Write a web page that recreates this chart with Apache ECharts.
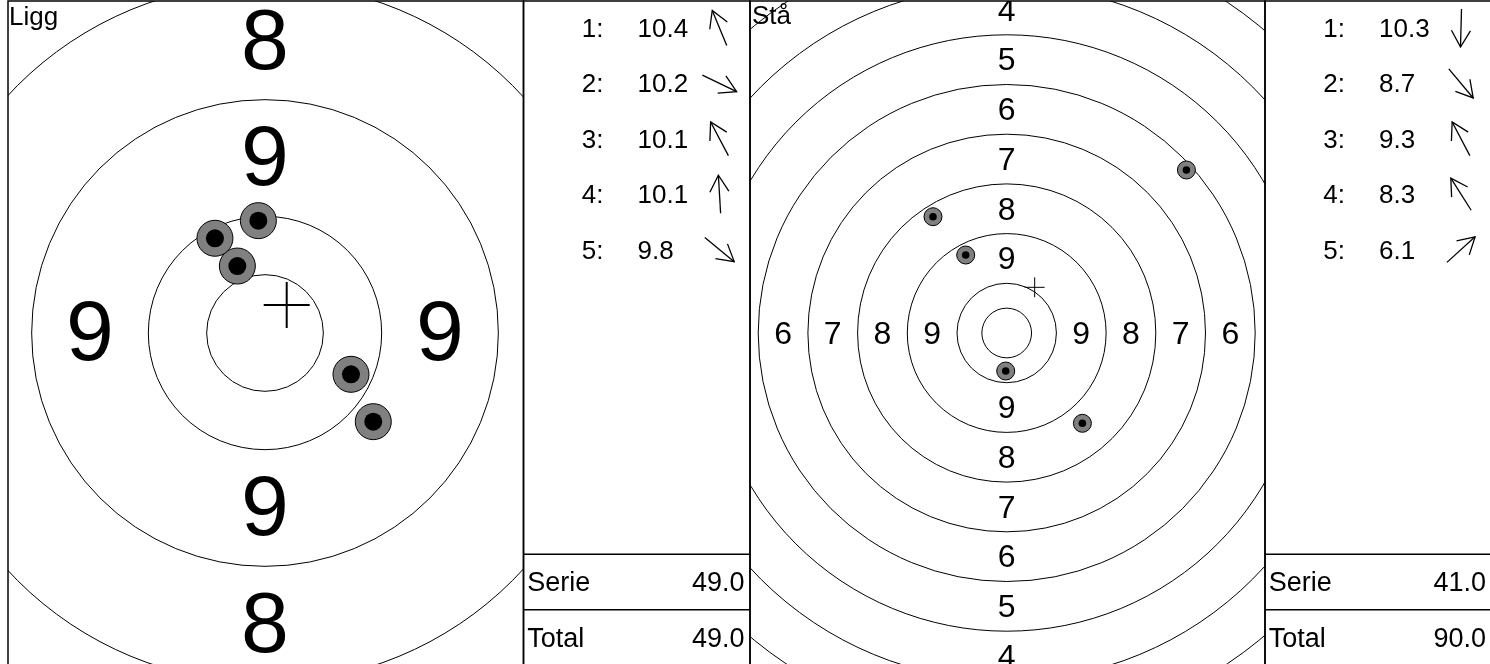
<!DOCTYPE html>
<html><head><meta charset="utf-8">
<script src="https://cdn.jsdelivr.net/npm/echarts@6/dist/echarts.min.js"></script>
<style>html,body{margin:0;padding:0;background:#fff;}#c{width:1490px;height:664px;}</style>
</head><body><div id="c"></div>
<script>
// ---------------- data ----------------
const panelNames = ['Ligg', 'Stå'];
const tableLabels = ['Serie', 'Total'];
// Left target (Ligg): ring radii and zone labels, in ring-width units
const liggRings = [0.5, 1, 2, 3];
const liggZoneLabels = ['9', '8'];
const liggZoneRadii = [1.5, 2.5];
// shots (x right, y up) in ring-width units, in shot order 1..5
const liggShotX = [-0.237, 0.737, -0.429, -0.057, 0.928];
const liggShotY = [0.574, -0.354, 0.812, 0.963, -0.760];
const liggScores = ['10.4', '10.2', '10.1', '10.1', '9.8'];
const liggMean = [0.186, 0.240];
const liggSums = ['49.0', '49.0'];
// Right target (Stå)
const staRings = [0.5, 1, 2, 3, 4, 5, 6, 7, 8];
const staZoneLabels = ['9', '8', '7', '6', '5', '4'];
const staZoneRadii = [1.5, 2.5, 3.5, 4.5, 5.5, 6.5];
const staShotX = [-0.020, 1.523, -0.825, -1.483, 3.616];
const staShotY = [-0.765, -1.817, 1.569, 2.340, 3.280];
const staScores = ['10.3', '8.7', '9.3', '8.3', '6.1'];
const staMean = [0.563, 0.919];
const staSums = ['41.0', '90.0'];

// ---------------- layout ----------------
const FONT = '"Liberation Sans", Arial, Helvetica, sans-serif';
const TOP = 1, H = 720;
const P = [
  {x0: 8, x1: 523.5, cx: 265, cy: 333, scale: 116.67},   // Ligg target
  {x0: 523.5, x1: 750},                                  // Ligg table
  {x0: 750, x1: 1265, cx: 1006.7, cy: 333, scale: 49.7}, // Stå target
  {x0: 1265, x1: 1492}                                   // Stå table
];
const ROW0 = 28, ROWH = 55.4;
const COL_NUM = 58.2, COL_VAL = 114, COL_ARR = 196, COL_LAB = 3.8, COL_SUM_R = 221;

const grids = P.map(p => ({left: p.x0, top: TOP, width: p.x1 - p.x0, height: H,
  outerBoundsMode: 'none', containLabel: false,
  show: true, borderColor: '#000', borderWidth: 1.5, backgroundColor: 'transparent'}));
const xAxes = P.map((p, i) => (i % 2 === 0)
  ? {type: 'value', gridIndex: i, show: false, min: (p.x0 - p.cx) / p.scale, max: (p.x1 - p.cx) / p.scale}
  : {type: 'value', gridIndex: i, show: false, min: 0, max: p.x1 - p.x0});
const yAxes = P.map((p, i) => (i % 2 === 0)
  ? {type: 'value', gridIndex: i, show: false, min: (p.cy - TOP - H) / p.scale, max: (p.cy - TOP) / p.scale}
  : {type: 'value', gridIndex: i, show: false, inverse: true,
     min: 1 - (ROW0 - TOP) / ROWH, max: 1 + (TOP + H - ROW0) / ROWH});

// text centred on glyph middle (small downward nudge so digit centres hit the point)
function txt(s, p, align, size) {
  const dy = 1 + 0.03 * size;
  return {type: 'text', x: p[0], y: p[1] + dy, style: {text: s, fill: '#000', fontSize: size, fontFamily: FONT,
    align: align, verticalAlign: 'middle', textAlign: align, textVerticalAlign: 'middle'}};
}

function ringSeries(gi, rings) {
  return {type: 'custom', xAxisIndex: gi, yAxisIndex: gi, clip: true, silent: true,
    data: rings.map(r => [r, 0]),
    renderItem(params, api) {
      const r = rings[params.dataIndex];
      const c = api.coord([0, 0]);
      const rp = api.size([2 * r, 0])[0] / 2;
      return {type: 'circle', shape: {cx: c[0], cy: c[1], r: rp}, style: {fill: 'none', stroke: '#000', lineWidth: 1}};
    }};
}
function zoneLabelSeries(gi, labels, radii, size) {
  return {type: 'custom', xAxisIndex: gi, yAxisIndex: gi, clip: true, silent: true,
    data: radii.map(r => [r, 0]),
    renderItem(params, api) {
      const r = radii[params.dataIndex], s = labels[params.dataIndex];
      const pts = [[0, r], [0, -r], [r, 0], [-r, 0]];
      return {type: 'group', children: pts.map(q => txt(s, api.coord(q), 'center', size))};
    }};
}
function shotSeries(gi, xs, ys, rOut, rIn) {
  return {type: 'custom', xAxisIndex: gi, yAxisIndex: gi, clip: true, silent: true,
    data: xs.map((x, i) => [x, ys[i]]),
    renderItem(params, api) {
      const i = params.dataIndex;
      const c = api.coord([xs[i], ys[i]]);
      return {type: 'group', children: [
        {type: 'circle', shape: {cx: c[0], cy: c[1], r: rOut}, style: {fill: '#808080', stroke: '#000', lineWidth: 1}},
        {type: 'circle', shape: {cx: c[0], cy: c[1], r: rIn}, style: {fill: '#000', stroke: null}}
      ]};
    }};
}
function meanSeries(gi, m, half, lw) {
  return {type: 'custom', xAxisIndex: gi, yAxisIndex: gi, clip: true, silent: true,
    data: [m],
    renderItem(params, api) {
      const c = api.coord(m);
      const st = {stroke: '#000', lineWidth: lw, fill: 'none'};
      return {type: 'group', children: [
        {type: 'line', shape: {x1: c[0] - half, y1: c[1], x2: c[0] + half, y2: c[1]}, style: st},
        {type: 'line', shape: {x1: c[0], y1: c[1] - half, x2: c[0], y2: c[1] + half}, style: st}
      ]};
    }};
}
function shotTableSeries(gi, scores, xs, ys) {
  return {type: 'custom', xAxisIndex: gi, yAxisIndex: gi, clip: true, silent: true,
    data: scores.map((s, i) => [COL_VAL, i + 1]),
    renderItem(params, api) {
      const i = params.dataIndex, row = i + 1;
      const pN = api.coord([COL_NUM, row]), pV = api.coord([COL_VAL, row]), pA = api.coord([COL_ARR, row]);
      const len = Math.hypot(xs[i], ys[i]);
      const ux = xs[i] / len, uy = -ys[i] / len;
      const half = 19, bl = 19;
      const tail = [pA[0] - ux * half, pA[1] - uy * half], tip = [pA[0] + ux * half, pA[1] + uy * half];
      const barb = a => { const c = Math.cos(a), s = Math.sin(a); const bx = -ux, by = -uy;
        return [tip[0] + bl * (bx * c - by * s), tip[1] + bl * (bx * s + by * c)]; };
      const st = {stroke: '#000', lineWidth: 1.3, fill: 'none'};
      return {type: 'group', children: [
        txt(row + ':', pN, 'left', 26), txt(scores[i], pV, 'left', 26),
        {type: 'polyline', shape: {points: [tail, tip]}, style: st},
        {type: 'polyline', shape: {points: [barb(Math.PI / 6), tip, barb(-Math.PI / 6)]}, style: st}
      ]};
    }};
}
function sumTableSeries(gi, sums) {
  return {type: 'custom', xAxisIndex: gi, yAxisIndex: gi, clip: true, silent: true,
    data: sums.map((s, i) => [COL_LAB, 11 + i]),
    renderItem(params, api) {
      const i = params.dataIndex, row = 11 + i;
      const w = P[gi].x1 - P[gi].x0;
      const a = api.coord([0, row - 0.5]), b = api.coord([w, row - 0.5]);
      return {type: 'group', children: [
        {type: 'line', shape: {x1: a[0], y1: a[1], x2: b[0], y2: b[1]}, style: {stroke: '#000', lineWidth: 1.5}},
        txt(tableLabels[i], api.coord([COL_LAB, row]), 'left', 27),
        txt(sums[i], api.coord([COL_SUM_R, row]), 'right', 27)
      ]};
    }};
}

const chart = echarts.init(document.getElementById('c'), null, {renderer: 'canvas'});
chart.setOption({
  animation: false,
  backgroundColor: '#fff',
  grid: grids, xAxis: xAxes, yAxis: yAxes,
  graphic: [
    {type: 'text', x: 9, y: 18, silent: true, style: {text: panelNames[0], fontSize: 26, fontFamily: FONT, fill: '#000', verticalAlign: 'middle', textVerticalAlign: 'middle'}},
    {type: 'text', x: 752, y: 17, silent: true, style: {text: panelNames[1], fontSize: 26, fontFamily: FONT, fill: '#000', verticalAlign: 'middle', textVerticalAlign: 'middle'}}
  ],
  series: [
    ringSeries(0, liggRings),
    zoneLabelSeries(0, liggZoneLabels, liggZoneRadii, 86),
    meanSeries(0, liggMean, 23, 2),
    shotSeries(0, liggShotX, liggShotY, 18, 9),
    shotTableSeries(1, liggScores, liggShotX, liggShotY),
    sumTableSeries(1, liggSums),
    ringSeries(2, staRings),
    zoneLabelSeries(2, staZoneLabels, staZoneRadii, 32),
    meanSeries(2, staMean, 10, 1),
    shotSeries(2, staShotX, staShotY, 9, 3.8),
    shotTableSeries(3, staScores, staShotX, staShotY),
    sumTableSeries(3, staSums)
  ]
});
</script></body></html>
